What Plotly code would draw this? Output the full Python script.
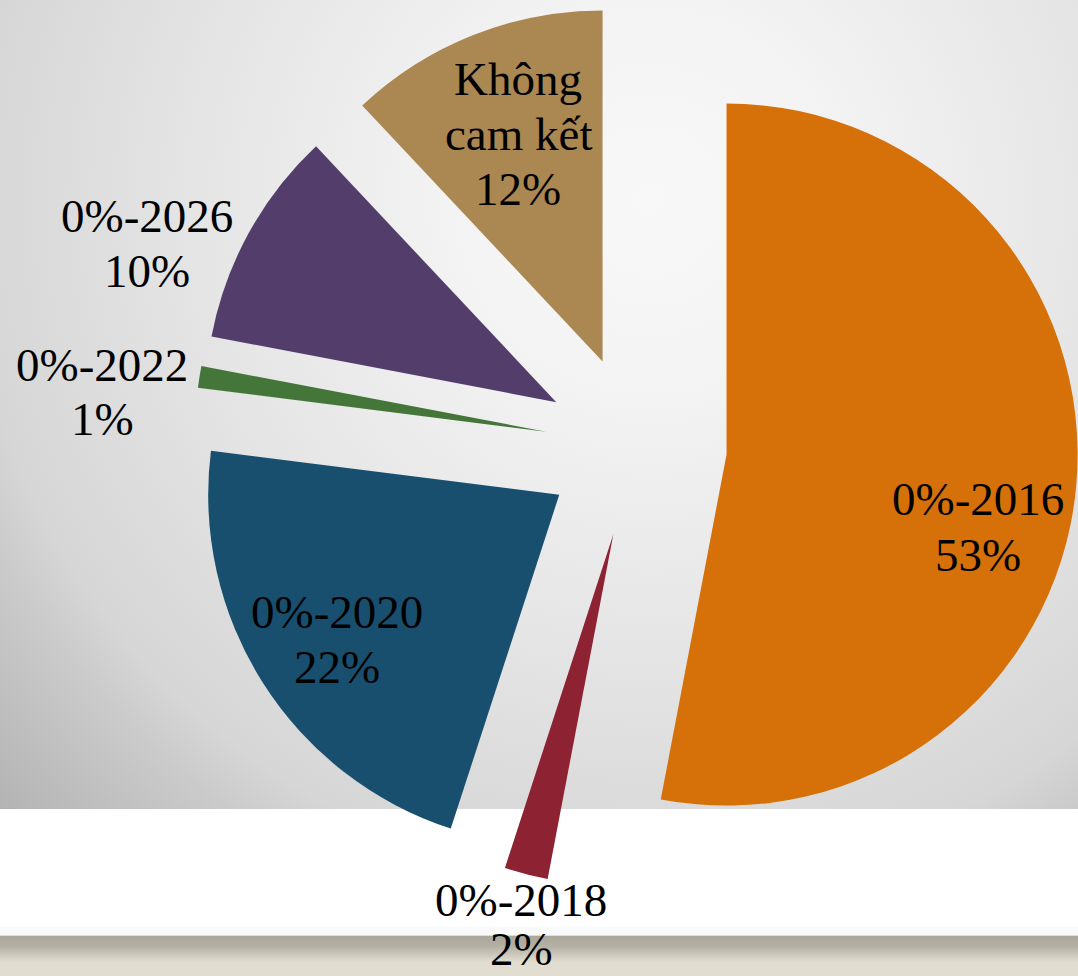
import base64
import plotly.graph_objects as go

# ---- data ----
labels = ["0%-2016", "0%-2018", "0%-2020", "0%-2022", "0%-2026", "Không cam kết"]
values = [53, 2, 22, 1, 10, 12]
colors = ["#D67008", "#8C2232", "#194F6E", "#44763A", "#533E6B", "#AB8751"]

W, H = 1078, 976

# ---- background (radial gradient panel, white band, footer bar) ----
svg = f"""<svg xmlns='http://www.w3.org/2000/svg' width='{W}' height='{H}' viewBox='0 0 {W} {H}' preserveAspectRatio='none'>
<defs>
<radialGradient id='g' gradientUnits='userSpaceOnUse' cx='650' cy='200' r='900'>
<stop offset='0' stop-color='#f8f8f8'/>
<stop offset='0.22' stop-color='#f3f3f3'/>
<stop offset='0.52' stop-color='#e4e4e4'/>
<stop offset='0.76' stop-color='#d6d6d6'/>
<stop offset='0.82' stop-color='#cbcbcb'/>
<stop offset='1' stop-color='#b2b2b2'/>
</radialGradient>
<linearGradient id='b' x1='0' y1='0' x2='0' y2='1'>
<stop offset='0' stop-color='#aaa699'/>
<stop offset='0.4' stop-color='#b4b0a3'/>
<stop offset='1' stop-color='#e2ddd1'/>
</linearGradient>
</defs>
<rect x='0' y='0' width='{W}' height='809' fill='url(#g)'/>
<rect x='0' y='809' width='{W}' height='118' fill='#ffffff'/>
<rect x='0' y='927' width='{W}' height='8' fill='#f9f9f9'/>
<rect x='0' y='935' width='{W}' height='1' fill='#dcdcdc'/>
<rect x='0' y='936' width='{W}' height='26' fill='url(#b)'/>
<rect x='0' y='962' width='{W}' height='14' fill='#e2ddd1'/>
</svg>"""
bg_uri = "data:image/svg+xml;base64," + base64.b64encode(svg.encode("utf-8")).decode("ascii")

fig = go.Figure(
    go.Pie(
        labels=labels,
        values=values,
        sort=False,
        direction="clockwise",
        rotation=0,
        pull=[0.259] * len(values),
        marker=dict(colors=colors, line=dict(width=0)),
        textinfo="none",
        hoverinfo="label+percent",
        showlegend=False,
        domain=dict(x=[0.18, 1.0], y=[0.0902, 0.9959]),
    )
)

# ---- labels (per line: text lines, centre x px, baseline y px) ----
total = sum(values)
pct = [f"{round(v * 100 / total)}%" for v in values]
label_lines = [
    ([labels[0], pct[0]], 978, [515, 571]),
    ([labels[1], pct[1]], 521, [916, 965]),
    ([labels[2], pct[2]], 337, [628, 683]),
    ([labels[3], pct[3]], 102, [381, 435]),
    ([labels[4], pct[4]], 147, [232, 287]),
    (["Không", "cam kết", pct[5]], 518, [95, 150, 205]),
]
FS = 47
annotations = []
for lines, px, baselines in label_lines:
    for t, by in zip(lines, baselines):
        mid = by - 0.34 * FS
        annotations.append(
            dict(
                text=t,
                x=px / W,
                y=1 - mid / H,
                xref="paper",
                yref="paper",
                xanchor="center",
                yanchor="middle",
                showarrow=False,
                font=dict(family="Liberation Serif, Times New Roman, serif", size=FS, color="#000000"),
            )
        )

fig.update_layout(
    width=W,
    height=H,
    margin=dict(l=0, r=0, t=0, b=0),
    paper_bgcolor="#ffffff",
    plot_bgcolor="rgba(0,0,0,0)",
    images=[
        dict(
            source=bg_uri,
            xref="paper",
            yref="paper",
            x=0,
            y=1,
            sizex=1,
            sizey=1,
            xanchor="left",
            yanchor="top",
            sizing="stretch",
            layer="below",
        )
    ],
    annotations=annotations,
)

fig.write_html("out.html")
